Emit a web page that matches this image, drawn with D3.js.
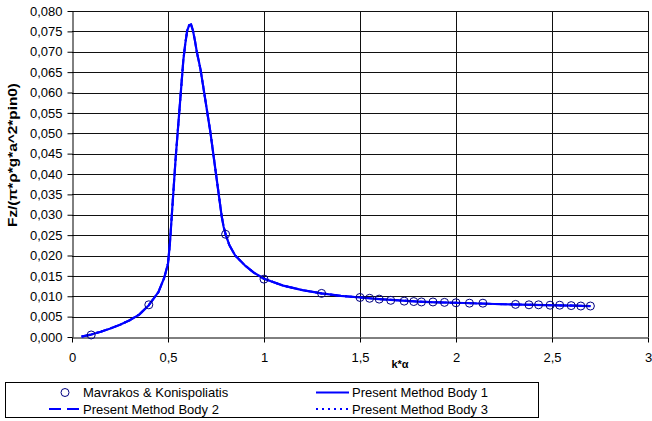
<!DOCTYPE html>
<html><head><meta charset="utf-8">
<script src="https://cdn.jsdelivr.net/npm/d3@7"></script>
<style>body{margin:0;background:#fff}svg{display:block}text{font-family:Arial,"Liberation Sans",sans-serif}</style>
</head><body><svg id="c" width="652" height="421"></svg>
<script>
// Data
const curveK = [0.05,0.1,0.15,0.2,0.25,0.3,0.35,0.4,0.45,0.48,0.5,0.51,0.52,0.53,0.54,0.55,0.56,0.57,0.58,0.59,0.6,0.61,0.62,0.63,0.64,0.65,0.66,0.67,0.68,0.69,0.7,0.71,0.72,0.73,0.74,0.75,0.76,0.77,0.78,0.79,0.8,0.82,0.85,0.9,0.95,1.0,1.1,1.2,1.3,1.4,1.5,1.6,1.7,1.8,1.9,2.0,2.2,2.4,2.6,2.7];
const body1 = [0.0001,0.0006,0.0013,0.0021,0.0030,0.0041,0.0055,0.0078,0.0110,0.0145,0.0180,0.0230,0.0300,0.0370,0.0440,0.0500,0.0560,0.0620,0.0680,0.0720,0.0752,0.0765,0.0767,0.0752,0.0728,0.0700,0.0678,0.0655,0.0625,0.0595,0.0565,0.0535,0.0505,0.0470,0.0435,0.0400,0.0365,0.0330,0.0295,0.0270,0.0252,0.0225,0.0200,0.0176,0.0157,0.0143,0.0126,0.0115,0.0107,0.0101,0.0097,0.0093,0.0090,0.0087,0.0085,0.0084,0.0081,0.0079,0.0077,0.0076];
const body2 = body1.slice();
const body3 = body1.slice();
const markK = [0.1,0.4,0.8,1.0,1.3,1.5,1.55,1.6,1.66,1.73,1.78,1.82,1.88,1.94,2.0,2.07,2.14,2.31,2.38,2.43,2.49,2.54,2.6,2.65,2.7];
const markV = [0.0005,0.0079,0.0252,0.0142,0.0107,0.0097,0.0095,0.0093,0.0090,0.0088,0.0087,0.0086,0.0086,0.0085,0.0084,0.0083,0.0083,0.0080,0.0079,0.0079,0.0078,0.0078,0.0077,0.0076,0.0076];
const xTicks = [0,0.5,1,1.5,2,2.5,3];
const yTicks = d3.range(0,0.0801,0.005);
const legendNames = ["Mavrakos & Konispoliatis","Present Method Body 1","Present Method Body 2","Present Method Body 3"];

const svg = d3.select("#c");
const x = d3.scaleLinear().domain([0,3]).range([72,648]);
const y = d3.scaleLinear().domain([0,0.08]).range([337,11]);
const fmtY = v => d3.format(".3f")(v).replace(".", ",");
const fmtX = v => String(v).replace(".", ",");

// grid
svg.append("g").selectAll("line").data(yTicks.slice(1)).join("line")
  .attr("x1",72).attr("x2",648).attr("y1",d=>Math.round(y(d))+0.5).attr("y2",d=>Math.round(y(d))+0.5)
  .attr("stroke","#111").attr("stroke-width",1);
svg.append("g").selectAll("line").data(xTicks.slice(1)).join("line")
  .attr("y1",11).attr("y2",337).attr("x1",d=>Math.round(x(d))+0.5).attr("x2",d=>Math.round(x(d))+0.5)
  .attr("stroke","#111").attr("stroke-width",1);

// axes
const xa = svg.append("g").attr("transform","translate(0,337.5)")
  .call(d3.axisBottom(x).tickValues(xTicks).tickFormat(fmtX).tickSize(5).tickSizeOuter(0));
const ya = svg.append("g").attr("transform","translate(72.5,0)")
  .call(d3.axisLeft(y).tickValues(yTicks).tickFormat(fmtY).tickSize(5).tickSizeOuter(0));
[xa,ya].forEach(g=>{g.select(".domain").attr("stroke","#000");g.selectAll(".tick line").attr("stroke","#000");
  g.selectAll("text").attr("font-size",13).attr("font-family","Arial, 'Liberation Sans', sans-serif").attr("fill","#000");});
xa.selectAll("text").attr("dy","1.25em");
ya.selectAll("text").attr("x",-10);

// titles
svg.append("text").attr("x",400).attr("y",368).attr("text-anchor","middle")
  .attr("font-size",11).attr("font-weight","bold").text("k*α");
svg.append("text").attr("transform","translate(17,155) rotate(-90)").attr("text-anchor","middle")
  .attr("font-size",13.5).attr("font-weight","bold").attr("textLength",144).attr("lengthAdjust","spacingAndGlyphs")
  .text("Fz/(π*ρ*g*a^2*pin0)");

// lines
const pts = arr => curveK.map((k,i)=>[k,arr[i]]);
const line = d3.line().x(d=>x(d[0])).y(d=>y(d[1]));
svg.append("path").attr("d",line(pts(body1))).attr("fill","none").attr("stroke","#0000ff").attr("stroke-width",2.2).attr("stroke-linejoin","round");
svg.append("path").attr("d",line(pts(body2))).attr("fill","none").attr("stroke","#0000ff").attr("stroke-width",2).attr("stroke-dasharray","10,5");
svg.append("path").attr("d",line(pts(body3))).attr("fill","none").attr("stroke","#0000ff").attr("stroke-width",2).attr("stroke-dasharray","2,3");

// markers
svg.append("g").selectAll("circle").data(markK.map((k,i)=>[k,markV[i]])).join("circle")
  .attr("cx",d=>x(d[0])).attr("cy",d=>y(d[1])).attr("r",4)
  .attr("fill","none").attr("stroke","#000080").attr("stroke-width",1);

// legend
const lg = svg.append("g");
lg.append("rect").attr("x",5.5).attr("y",382.5).attr("width",533).attr("height",35).attr("fill","#fff").attr("stroke","#000");
const rows = [392.5,409];
lg.append("circle").attr("cx",65).attr("cy",rows[0]).attr("r",4).attr("fill","none").attr("stroke","#000080");
lg.append("line").attr("x1",316).attr("x2",349).attr("y1",rows[0]).attr("y2",rows[0]).attr("stroke","#0000ff").attr("stroke-width",2);
lg.append("line").attr("x1",49).attr("x2",80).attr("y1",rows[1]).attr("y2",rows[1]).attr("stroke","#0000ff").attr("stroke-width",2).attr("stroke-dasharray","12,6");
lg.append("line").attr("x1",316).attr("x2",349).attr("y1",rows[1]).attr("y2",rows[1]).attr("stroke","#0000ff").attr("stroke-width",2).attr("stroke-dasharray","2,4");
const lp = [[83,rows[0]],[352,rows[0]],[83,rows[1]],[352,rows[1]]];
lg.selectAll("text").data(legendNames).join("text")
  .attr("x",(d,i)=>lp[i][0]).attr("y",(d,i)=>lp[i][1]).attr("dy","0.35em")
  .attr("font-size",13).text(d=>d);
</script></body></html>
